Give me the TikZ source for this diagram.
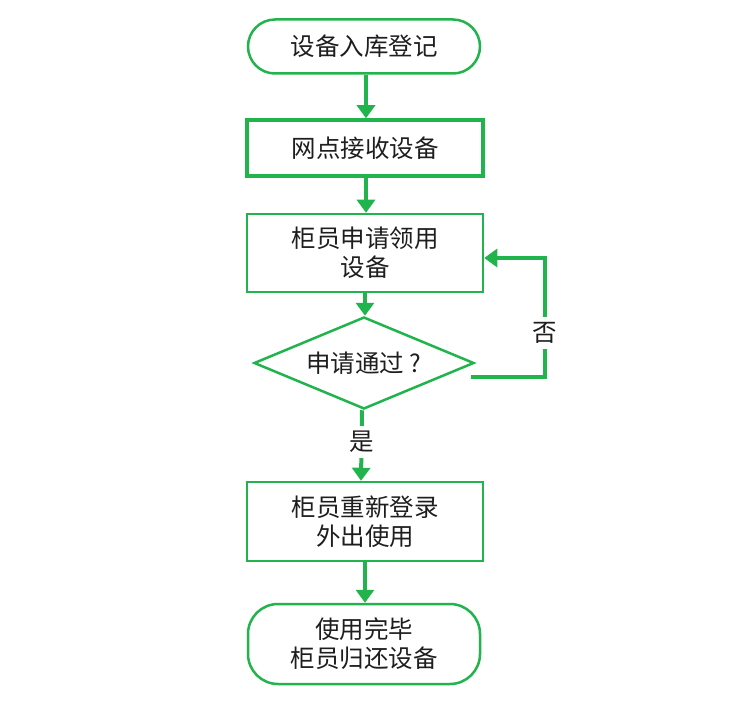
\documentclass[tikz,border=0pt]{standalone}
\usepackage{fontspec}
\setmainfont{Noto Sans CJK SC}
\usetikzlibrary{arrows.meta,shapes.geometric,calc}
\definecolor{fgreen}{RGB}{34,180,76}
\definecolor{ftext}{RGB}{30,30,30}
\begin{document}
\begin{tikzpicture}[x=1pt,y=-1pt,
  every node/.style={font=\fontsize{24.5}{29}\selectfont, text=ftext, align=center, inner sep=0pt},
  term/.style={draw=fgreen, line width=2.5pt, rectangle, rounded corners=27pt, minimum width=232pt},
  procbox/.style={draw=fgreen, line width=2.5pt, rectangle, minimum width=236pt},
  decis/.style={draw=fgreen, line width=2.5pt, diamond, shape aspect=2.36, minimum width=220pt, minimum height=92pt},
  conn/.style={draw=fgreen, line width=4pt, -{Triangle[width=18pt,length=13pt]}},
  lbl/.style={fill=white, inner sep=5pt}
]
\useasboundingbox (0,0) rectangle (750,714);
\fill[white] (0,0) rectangle (750,714);
\node[term, minimum height=54pt] (t1) at (364,46.5) {设备入库登记};
\node[procbox, line width=3.5pt, minimum height=56pt] (b2) at (365,148) {网点接收设备};
\node[procbox, minimum height=78pt] (b3) at (365,253) {柜员申请领用\\设备};
\node[decis] (d) at (364,363) {申请通过 ?};
\node[procbox, minimum height=79pt] (b4) at (365,521.5) {柜员重新登录\\外出使用};
\node[term, rounded corners=30pt, minimum height=80pt] (t6) at (364,644) {使用完毕\\柜员归还设备};

\draw[conn] ([xshift=2pt]t1.south) -- ([xshift=1pt]b2.north);
\draw[conn] ([xshift=1pt]b2.south) -- ([xshift=1pt]b3.north);
\draw[conn] (b3.south) -- (b3.south |- d.north);
\draw[conn] ([xshift=-2pt]d.south) -- ([xshift=-3pt]d.south |- b4.north);
\draw[conn] (b4.south) -- (b4.south |- t6.north);
\coordinate (c1) at (545,258);
\draw[conn] ([shift={(-4,14)}]d.east) -| (c1) -- (b3.east |- c1);
\node[lbl] (no) at (545,333) {否};
\node[lbl] (yes) at (362,442) {是};
\end{tikzpicture}
\end{document}
